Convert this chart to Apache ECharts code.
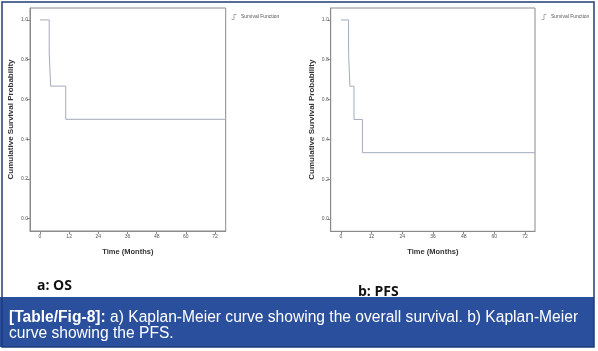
<!DOCTYPE html>
<html><head><meta charset="utf-8">
<script src="https://cdn.jsdelivr.net/npm/echarts@6/dist/echarts.min.js"></script>
<style>html,body{margin:0;padding:0;background:#fff}#c{width:598px;height:351px}</style>
</head><body><div id="c"></div>
<script>
// Data
const osTimes = [0, 3.8, 4.4, 10.6, 76.4];
const osSurv  = [1.0, 0.833, 0.667, 0.5, 0.5];
const pfsTimes = [0, 3.0, 3.5, 5.1, 8.4, 75.9];
const pfsSurv  = [1.0, 0.833, 0.667, 0.5, 0.333, 0.333];
const xTicks = [0, 12, 24, 36, 48, 60, 72];
const yTicks = [0, 0.2, 0.4, 0.6, 0.8, 1.0];
const seriesName = 'Survival Function';
const panelLabels = ['a: OS', 'b: PFS'];
const captionBold = '[Table/Fig-8]:';
const captionRest1 = ' a) Kaplan-Meier curve showing the overall survival. b) Kaplan-Meier';
const captionLine2 = 'curve showing the PFS.';

const pairs = (xs, ys) => xs.map((x, i) => [x, ys[i]]);
const chart = echarts.init(document.getElementById('c'), null, {renderer: 'canvas'});
const font = 'Liberation Sans, Arial, sans-serif';
const frameCol = '#8a8a8a';
const lineCol = '#a3abbb';

function xAxis(gi, min, max) {
  return {
    type: 'value', gridIndex: gi, min: min, max: max,
    name: 'Time (Months)', nameLocation: 'middle', nameGap: 17,
    nameTextStyle: {fontFamily: font, fontWeight: 'bold', fontSize: 7.5, color: '#333'},
    axisLine: {show: true, onZero: false, lineStyle: {color: frameCol, width: 1}},
    axisTick: {show: true, customValues: xTicks, length: 3, inside: false, lineStyle: {color: frameCol}},
    axisLabel: {customValues: xTicks, fontSize: 5, color: '#555', margin: 3, fontFamily: font},
    splitLine: {show: false}
  };
}
function yAxis(gi) {
  return {
    type: 'value', gridIndex: gi, min: -0.062, max: 1.06,
    name: 'Cumulative Survival Probability', nameLocation: 'middle', nameGap: 15, nameRotate: 90,
    nameTextStyle: {fontFamily: font, fontWeight: 'bold', fontSize: 8, color: '#333'},
    axisLine: {show: true, onZero: false, lineStyle: {color: frameCol, width: 1}},
    axisTick: {show: true, customValues: yTicks, length: 3, lineStyle: {color: frameCol}},
    axisLabel: {customValues: yTicks, fontSize: 5, color: '#555', margin: 2, fontFamily: font,
      formatter: v => v.toFixed(1)},
    splitLine: {show: false}
  };
}
function legend(left) {
  return {
    left: left, top: 9, itemWidth: 8, itemHeight: 5, itemGap: 2,
    icon: 'path://M0,10 L5,10 L5,0 L10,0',
    textStyle: {fontSize: 5, color: '#555', fontFamily: font, padding: [0,0,0,-2]},
    data: [{name: seriesName, itemStyle: {color: 'transparent', borderColor: lineCol, borderWidth: 1}}]
  };
}

chart.setOption({
  animation: false,
  grid: [
    {left: 30, top: 8, width: 195.7, height: 223, show: true, borderColor: frameCol, borderWidth: 1, backgroundColor: '#fff'},
    {left: 330.7, top: 8, width: 204.3, height: 223.3, show: true, borderColor: frameCol, borderWidth: 1, backgroundColor: '#fff'}
  ],
  xAxis: [xAxis(0, -4.1, 76.4), xAxis(1, -4.0, 75.9)],
  yAxis: [yAxis(0), yAxis(1)],
  legend: [legend(226), legend(536)],
  series: [
    {type: 'line', name: seriesName, xAxisIndex: 0, yAxisIndex: 0, step: 'end', symbol: 'none',
      lineStyle: {color: lineCol, width: 1}, itemStyle: {color: lineCol}, data: pairs(osTimes, osSurv)},
    {type: 'line', name: seriesName, xAxisIndex: 1, yAxisIndex: 1, step: 'end', symbol: 'none',
      lineStyle: {color: lineCol, width: 1}, itemStyle: {color: lineCol}, data: pairs(pfsTimes, pfsSurv)}
  ],
  graphic: [
    {type: 'rect', shape: {x: 0, y: 297, width: 594, height: 50}, style: {fill: '#2a4f9d'}, z: 0},
    {type: 'rect', shape: {x: 2, y: 2, width: 592, height: 345}, style: {fill: 'none', stroke: '#1f3d78', lineWidth: 1.5}, z: 10},
    {type: 'text', left: 37, top: 279, style: {text: panelLabels[0], font: 'bold 14px "Open Sans", sans-serif', fill: '#111'}},
    {type: 'text', left: 358, top: 285, style: {text: panelLabels[1], font: 'bold 14px "Open Sans", sans-serif', fill: '#111'}},
    {type: 'text', left: 9, top: 310, z: 20, style: {
      text: '{b|' + captionBold + '}{r|' + captionRest1 + '}\n{r|' + captionLine2 + '}',
      lineHeight: 16,
      rich: {
        b: {fontFamily: font, fontWeight: 'bold', fontSize: 15.6, fill: '#fff', lineHeight: 16},
        r: {fontFamily: font, fontSize: 15.6, fill: '#fff', lineHeight: 16}
      }
    }}
  ]
});
</script></body></html>
